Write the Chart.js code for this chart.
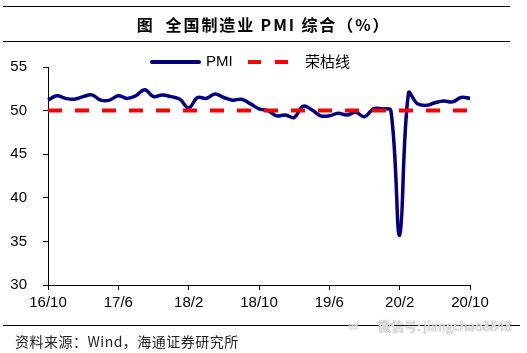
<!DOCTYPE html>
<html><head><meta charset="utf-8">
<script src="https://cdn.jsdelivr.net/npm/chart.js@4/dist/chart.umd.min.js"></script>
<style>
html,body{margin:0;padding:0;background:#fff;}
#wrap{position:relative;width:527px;height:353px;overflow:hidden;font-family:"Liberation Sans",Arial,sans-serif;background:#fff;}
canvas{position:absolute;left:0;top:0;}
.rule{position:absolute;left:3px;height:0;border-top:1.5px solid #000;}
#title{position:absolute;top:14px;left:0;width:527px;text-align:center;font-family:"Noto Sans CJK SC","Liberation Sans",sans-serif;font-weight:bold;font-size:16px;letter-spacing:1.9px;line-height:20px;white-space:pre;color:#000;}
#legend{position:absolute;top:51px;left:150px;height:20px;font-size:15px;line-height:20px;color:#000;}
#legend .it{position:absolute;top:0;white-space:nowrap;}
#legend .sw{position:absolute;height:4px;top:9px;}
#source{position:absolute;left:15px;top:332px;font-family:"Noto Sans CJK SC",sans-serif;font-size:14px;letter-spacing:0.5px;line-height:19px;color:#222;white-space:pre;}
#wm{position:absolute;left:378px;top:317px;font-family:"Noto Sans CJK SC",sans-serif;font-size:13px;line-height:17px;color:#f2f2f2;text-shadow:0 0 1px #888,0 0 1px #888;white-space:pre;}
#wmi{position:absolute;left:348px;top:319px;font-size:14px;line-height:14px;color:#f2f2f2;text-shadow:0 0 1px #888;}
</style></head>
<body>
<div id="wrap">
<canvas id="c" width="527" height="353"></canvas>
<div class="rule" style="top:6px;width:507px;"></div>
<div id="title">图  全国制造业 PMI 综合（%）</div>
<div class="rule" style="top:41px;width:507px;"></div>
<div id="legend"></div>
<div class="rule" style="top:325px;width:517px;border-top-width:1px;"></div>
<div id="source">资料来源：Wind，海通证券研究所</div>
<div id="wmi">∞</div>
<div id="wm">微信号: jiangchao8848</div>
</div>
<script>
const months = ["16/10","16/11","16/12","17/1","17/2","17/3","17/4","17/5","17/6","17/7","17/8","17/9","17/10","17/11","17/12",
"18/1","18/2","18/3","18/4","18/5","18/6","18/7","18/8","18/9","18/10","18/11","18/12",
"19/1","19/2","19/3","19/4","19/5","19/6","19/7","19/8","19/9","19/10","19/11","19/12",
"20/1","20/2","20/3","20/4","20/5","20/6","20/7","20/8","20/9","20/10"];
const pmi = [51.2,51.7,51.4,51.3,51.6,51.8,51.2,51.2,51.7,51.4,51.7,52.4,51.6,51.8,51.6,
51.3,50.3,51.5,51.4,51.9,51.5,51.2,51.3,50.8,50.2,50.0,49.4,
49.5,49.2,50.5,50.1,49.4,49.4,49.7,49.5,49.8,49.3,50.2,50.2,
50.0,35.7,52.0,50.8,50.6,50.9,51.1,51.0,51.5,51.4];
const boomBust = 50;
const seriesNames = ["PMI","荣枯线"];
const yTicks = [30,35,40,45,50,55];
const xTickEvery = 8;

const navy = "#000080", red = "#FF0000";

// HTML legend
(function(){
  const lg = document.getElementById('legend');
  lg.innerHTML =
   '<div class="sw" style="left:0;width:51px;background:'+navy+';border-radius:2px;"></div>'+
   '<div class="it" style="left:56px;">'+seriesNames[0]+'</div>'+
   '<div class="sw" style="left:98px;width:13px;background:'+red+';"></div>'+
   '<div class="sw" style="left:125px;width:13px;background:'+red+';"></div>'+
   '<div class="it" style="left:155px;font-family:\'Noto Sans CJK SC\',sans-serif;">'+seriesNames[1]+'</div>';
})();

const tickFont = {family:"'Liberation Sans', Arial, sans-serif", size:15};
new Chart(document.getElementById('c'), {
  type:'line',
  data:{
    datasets:[
      {label:seriesNames[1], data:[{x:0,y:boomBust},{x:months.length-1,y:boomBust}],
       borderColor:red, borderWidth:4, borderDash:[14,13], pointRadius:0, tension:0, order:0, fill:false},
      {label:seriesNames[0], data:pmi.map((v,i)=>({x:i,y:v})),
       borderColor:navy, borderWidth:3.5, pointRadius:0, tension:0.4, order:1, fill:false, clip:false}
    ]
  },
  options:{
    responsive:false, animation:false, devicePixelRatio:1,
    layout:{padding:{left:0,right:57,top:67,bottom:38}},
    plugins:{legend:{display:false}, tooltip:{enabled:false}, title:{display:false}},
    scales:{
      x:{type:'linear', min:0, max:months.length-1,
         afterFit:s=>{s.height=30;},
         afterBuildTicks:s=>{s.ticks=months.map((m,i)=>({value:i})).filter(t=>t.value%xTickEvery===0);},
         ticks:{callback:v=>months[v], font:tickFont, color:'#000', padding:4, maxRotation:0, autoSkip:false},
         grid:{drawOnChartArea:false, drawTicks:true, tickLength:5, tickColor:'#000', lineWidth:1},
         border:{display:true,color:'#000',width:1}},
      y:{min:yTicks[0], max:yTicks[yTicks.length-1],
         afterFit:s=>{s.width=48;},
         afterBuildTicks:s=>{s.ticks=yTicks.map(v=>({value:v}));},
         ticks:{font:tickFont, color:'#000', padding:16},
         grid:{drawOnChartArea:false, drawTicks:true, tickLength:5, tickColor:'#000', lineWidth:1},
         border:{display:true,color:'#000',width:1}}
    }
  }
});
</script>
</body></html>
